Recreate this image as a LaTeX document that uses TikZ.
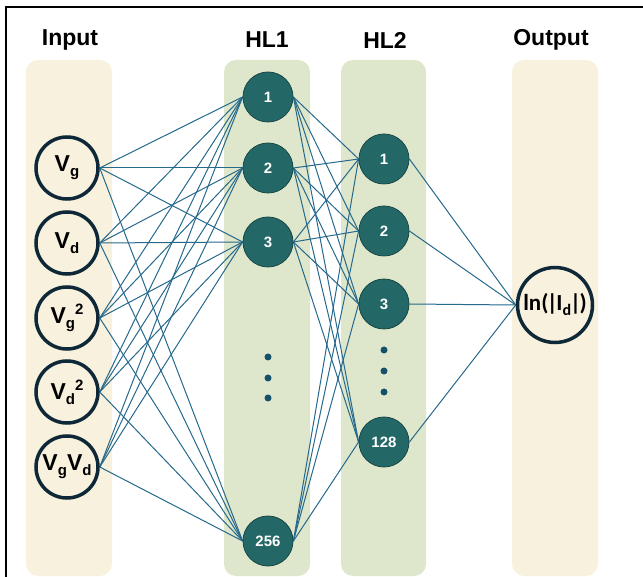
\documentclass[tikz,border=0pt]{standalone}
\usepackage{fontspec}
\setmainfont{Liberation Sans}
\newfontfamily\calib{Carlito}
\pgfdeclarelayer{bg}
\pgfdeclarelayer{edges}
\pgfsetlayers{bg,edges,main}
\definecolor{cream}{RGB}{247,241,222}
\definecolor{sage}{RGB}{222,230,203}
\definecolor{teal}{RGB}{35,104,102}
\definecolor{tealdark}{RGB}{24,72,70}
\definecolor{wire}{RGB}{37,105,140}
\definecolor{ink}{RGB}{14,40,56}
\definecolor{dotc}{RGB}{22,80,105}
\tikzset{
  colbox/.style={rounded corners=12pt},
  innode/.style={circle, draw=ink, line width=3.5pt, fill=cream, minimum size=62pt, inner sep=0pt,
     font=\fontsize{23}{23}\selectfont\bfseries},
  outnode/.style={circle, draw=ink, line width=3.5pt, fill=cream, minimum size=75pt, inner sep=0pt,
     font=\calib\fontsize{23}{23}\selectfont\bfseries},
  hnode/.style={circle, draw=tealdark, line width=0.8pt, fill=teal, minimum size=50pt, inner sep=0pt,
     text=white, font=\fontsize{15}{15}\selectfont\bfseries},
  title/.style={font=\fontsize{23}{23}\selectfont\bfseries},
  wireline/.style={draw=wire, line width=1pt},
  vdot/.style={circle, fill=dotc, inner sep=0pt, minimum size=7pt},
}
\newcommand{\sbs}[1]{\raisebox{-5pt}{\fontsize{15}{15}\selectfont #1}}
\newcommand{\sps}[1]{\raisebox{9pt}{\fontsize{15}{15}\selectfont #1}}
\begin{document}
\begin{tikzpicture}[x=1pt,y=-1pt]
\useasboundingbox (0,0) rectangle (643,577);
% frame
\draw[line width=2pt, black] (6,577) -- (6,7) -- (643,7);
% columns
\begin{pgfonlayer}{bg}
\fill[cream, colbox] (26,60) rectangle (112,576);
\fill[sage, colbox] (224,60) rectangle (310,576);
\fill[sage, colbox] (341,60) rectangle (426,576);
\fill[cream, colbox] (512,60) rectangle (598,576);
\end{pgfonlayer}
% titles
\node[title] (tin) at (70,40) {Input};
\node[title] (th1) at (267,40) {HL1};
\node[title] (th2) at (385,40) {HL2};
\node[title] (tout) at (551,40) {Output};
% input nodes
\node[innode] (i1) at (67,168) {V\sbs{g}};
\node[innode] (i2) at (67,243) {V\sbs{d}};
\node[innode] (i3) at (67,318) {V\sbs{g}\sps{2}};
\node[innode] (i4) at (67,392) {V\sbs{d}\sps{2}};
\node[innode] (i5) at (67,467) {V\sbs{g}V\sbs{d}};
% hidden layer 1
\node[hnode] (a1) at (268,97) {1};
\node[hnode] (a2) at (268,168) {2};
\node[hnode] (a3) at (268,242) {3};
\node[hnode] (a4) at (268,541) {256};
\node[vdot] (ad1) at (268,357) {};
\node[vdot] (ad2) at (268,378) {};
\node[vdot] (ad3) at (268,398) {};
% hidden layer 2
\node[hnode] (b1) at (384,159) {1};
\node[hnode] (b2) at (384,231) {2};
\node[hnode] (b3) at (384,304) {3};
\node[hnode] (b4) at (384,442) {128};
\node[vdot] (bd1) at (384,350) {};
\node[vdot] (bd2) at (384,371) {};
\node[vdot] (bd3) at (384,392) {};
% output
\node[outnode] (o) at (555,305) {ln(\kern-1.5pt|\kern-1.5pt I\raisebox{-5pt}{\fontsize{16}{16}\selectfont d}\kern-1pt|\kern-1.5pt)};
% connections
\begin{pgfonlayer}{edges}
\foreach \i in {1,...,5}{
  \foreach \j in {1,...,4}{
    \draw[wireline] (i\i.east) -- (a\j.west);
  }
}
\foreach \i in {1,...,4}{
  \foreach \j in {1,...,4}{
    \draw[wireline] (a\i.east) -- (b\j.west);
  }
  \draw[wireline] (b\i.east) -- (o.west);
}
\end{pgfonlayer}
\end{tikzpicture}
\end{document}
